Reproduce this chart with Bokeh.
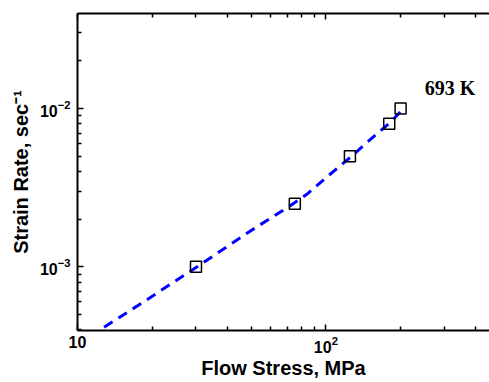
from bokeh.plotting import figure
from bokeh.models import LogAxis, FixedTicker, LogTickFormatter, Label
from bokeh.embed import file_html
from bokeh.resources import INLINE

# measured data points (flow stress MPa, strain rate 1/s)
stress = [30, 75, 125, 180, 200]
rate = [1.0e-3, 2.5e-3, 5.0e-3, 8.0e-3, 1.0e-2]

# dashed fit curve
fit_stress = [12.8, 18.8, 29.9, 49.0, 72.1, 83.6, 100.0, 125.7, 146.8, 182.0, 201.8]
fit_rate = [4.15e-4, 6.12e-4, 9.86e-4, 1.66e-3, 2.44e-3, 2.86e-3, 3.65e-3, 4.93e-3, 6.12e-3, 8.19e-3, 9.7e-3]

x_major = [10, 100]
x_minor = [20, 30, 40, 50, 60, 70, 80, 90, 200, 300, 400]
y_major = [1e-3, 1e-2]
y_minor = [4e-4, 5e-4, 6e-4, 7e-4, 8e-4, 9e-4,
           2e-3, 3e-3, 4e-3, 5e-3, 6e-3, 7e-3, 8e-3, 9e-3,
           2e-2, 3e-2, 4e-2]

temp_label = "693 K"

p = figure(width=489, height=382, x_axis_type="log", y_axis_type="log",
           x_range=(10, 456), y_range=(3.96e-4, 3.98e-2),
           output_backend="svg", toolbar_location=None,
           min_border_left=77, min_border_right=0, min_border_top=13,
           min_border_bottom=52)
p.outline_line_color = None
p.grid.visible = False
p.background_fill_color = "white"
p.border_fill_color = "white"

xt = FixedTicker(ticks=x_major, minor_ticks=x_minor)
yt = FixedTicker(ticks=y_major, minor_ticks=y_minor)

def style(ax):
    ax.axis_line_width = 2
    ax.axis_line_color = "black"
    ax.major_tick_in = 6
    ax.major_tick_out = 0
    ax.minor_tick_in = 4
    ax.minor_tick_out = 0
    ax.major_tick_line_width = 1.5
    ax.minor_tick_line_width = 1.5
    ax.major_label_text_font = "Liberation Sans"
    ax.major_label_text_font_style = "bold"
    ax.major_label_text_font_size = "16px"
    ax.major_label_text_color = "black"
    ax.axis_label_text_font = "Liberation Sans"
    ax.axis_label_text_font_style = "bold"
    ax.axis_label_text_font_size = "20px"
    ax.axis_label_text_color = "black"

xa = p.xaxis[0]
xa.ticker = xt
xa.formatter = LogTickFormatter()
xa.major_label_overrides = {10: "10"}
xa.axis_label = "Flow Stress, MPa"
xa.major_label_standoff = 5
xa.axis_label_standoff = 1
style(xa)

ya = p.yaxis[0]
ya.ticker = yt
ya.formatter = LogTickFormatter()
ya.axis_label = "Strain Rate, sec\u207b\u00b9"
ya.major_label_standoff = 7
ya.axis_label_standoff = 5
style(ya)

top = LogAxis(ticker=xt)
style(top)
top.major_label_text_font_size = "0px"
top.major_label_text_color = None
top.major_label_standoff = 0
p.add_layout(top, "above")

p.line(fit_stress, fit_rate, line_color="#0000ff", line_width=3, line_dash="10 7")
p.scatter(stress, rate, marker="square", size=11, fill_color=None,
          line_color="black", line_width=1.5)

p.add_layout(Label(x=250, y=0.0134, text=temp_label, text_font="Liberation Serif",
                   text_font_style="bold", text_font_size="20px", text_color="black",
                   text_align="left", text_baseline="alphabetic"))

open("out.html", "w").write(file_html(p, INLINE))
